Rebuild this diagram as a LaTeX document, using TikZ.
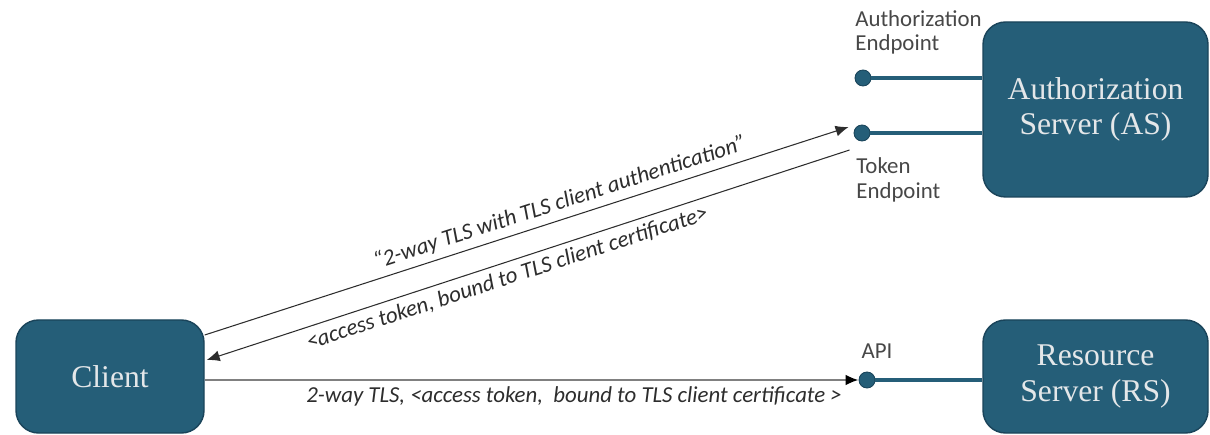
\documentclass[tikz,border=0pt]{standalone}
\usepackage{fontspec}
\setmainfont{Carlito}
\newfontfamily\boxfont{Liberation Serif}
\usepackage{xcolor}
\usepackage{tikz}
\usetikzlibrary{arrows.meta}
\usetikzlibrary{positioning}
\usetikzlibrary{calc}

\definecolor{srvteal}{RGB}{37,94,120}
\definecolor{srvedge}{RGB}{26,68,90}
\definecolor{srvtext}{RGB}{228,231,233}
\definecolor{msggray}{RGB}{45,45,45}

\begin{document}
\begin{tikzpicture}[
  server/.style={draw=srvedge,line width=0.8pt,fill=srvteal,rounded corners=0.45cm,text=srvtext,font=\boxfont\fontsize{18}{20}\selectfont,align=center,inner sep=0pt},
  endpt/.style={circle,draw=srvedge,fill=srvteal,line width=0.5pt,minimum size=0.32cm,inner sep=0pt},
  wire/.style={srvteal,line width=2.2pt},
  msg/.style={msggray,line width=0.6pt,-{Latex[length=2.6mm,width=2.2mm]}},
  msgback/.style={msggray,line width=0.6pt,{Latex[length=2.6mm,width=2.2mm]}-},
  msgtext/.style={font=\fontsize{13}{14}\selectfont\itshape,text=msggray},
  eplabel/.style={font=\fontsize{13}{14}\selectfont,text=black!72,align=left,inner sep=0pt}
]
\useasboundingbox (0,0) rectangle (24.2,-8.7);

% servers and client
\node[server,minimum width=4.5cm,minimum height=3.5cm] (as) at (21.91,-2.19) {Authorization\\Server (AS)};
\node[server,minimum width=4.5cm,minimum height=2.26cm] (rs) at (21.91,-7.53) {Resource\\Server (RS)};
\node[server,minimum width=3.76cm,minimum height=2.26cm] (client) at (2.2,-7.53) {Client};

% endpoints
\node[endpt] (authep) at (17.26,-1.56) {};
\node[endpt] (tokenep) at (17.24,-2.66) {};
\node[endpt] (api) at (17.34,-7.6) {};
\foreach \ep/\srv in {authep/as, tokenep/as, api/rs}
    \draw[wire] (\ep.east) -- (\ep.east -| \srv.west);

\node[eplabel,anchor=north west] (authlbl) at (17.1,-0.2) {Authorization\\Endpoint};
\node[eplabel,anchor=north west] (toklbl) at (17.12,-3.15) {Token\\Endpoint};
\node[eplabel,above=0.26cm of api,xshift=0.2cm] (apilbl) {API};

% messages
\coordinate (c1) at ([yshift=0.83cm]client.east);
\coordinate (c2) at ([xshift=0.04cm,yshift=0.33cm]client.east);
\coordinate (t1) at ([xshift=-0.1cm,yshift=0.12cm]tokenep.west);
\coordinate (t2) at ([xshift=-0.08cm,yshift=-0.34cm]tokenep.west);

\draw[msg] (c1) -- node[msgtext,pos=0.56,above,sloped] {“2-way TLS with TLS client authentication”} (t1);
\draw[msgback] (c2) -- node[msgtext,pos=0.46,below,sloped] {<access token, bound to TLS client certificate>} (t2);
\draw[msg,line width=1.4pt,black!50,-{Latex[length=2.6mm,width=2.2mm,color=black]}] (client.east |- api) -- node[msgtext,pos=0.565,below] {2-way TLS, <access token,\ \ bound to TLS client certificate >} (api.west);
\end{tikzpicture}
\end{document}
